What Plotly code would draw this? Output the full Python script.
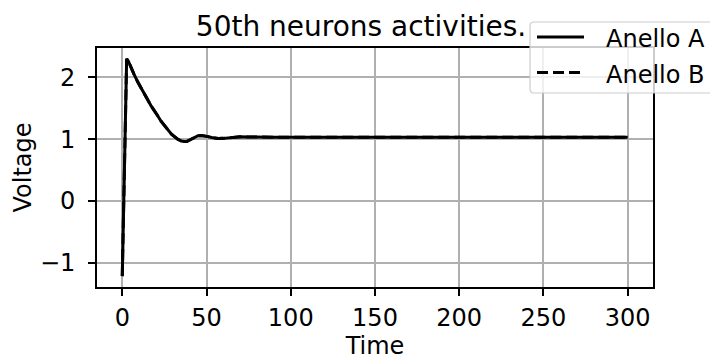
import plotly.graph_objects as go

# Data
time = [0, 1, 2, 2.6, 3.5, 5.3, 7, 9.3, 11, 13.3, 15, 17.3, 19, 21.2, 23, 25.2, 27,
        29.2, 31, 33.1, 35, 36.8, 38.5, 40.5, 43, 45, 47, 49, 51, 53, 55, 57, 60,
        63, 66, 70, 75, 80, 90, 100, 150, 200, 250, 300]
anello_a = [-1.22, 0.15, 1.55, 2.30, 2.27, 2.14, 2.05, 1.92, 1.83, 1.72, 1.64, 1.53,
            1.45, 1.37, 1.29, 1.21, 1.15, 1.08, 1.04, 0.995, 0.97, 0.96, 0.965, 0.99,
            1.03, 1.055, 1.06, 1.055, 1.04, 1.025, 1.015, 1.01, 1.012, 1.02, 1.03,
            1.037, 1.035, 1.03, 1.03, 1.03, 1.03, 1.03, 1.03, 1.03]
anello_b = list(anello_a)
series_names = ["Anello A", "Anello B"]
x_ticks = [0, 50, 100, 150, 200, 250, 300]
y_ticks = [-1, 0, 1, 2]

FONT = "DejaVu Sans"
W, H = 710, 361
ML, MR, MT, MB = 97, 57, 48, 74
PW, PH = W - ML - MR, H - MT - MB


def padded(lo, hi, frac=0.05):
    span = hi - lo
    return [lo - frac * span, hi + frac * span]


def px(x):
    return (x - ML) / PW


def py(y):
    return (H - MB - y) / PH


allv = anello_a + anello_b
yr = padded(min(allv), max(allv))
xr = padded(min(time), max(time))

fig = go.Figure()
fig.add_trace(go.Scatter(x=time, y=anello_a, mode="lines", name=series_names[0],
                         line=dict(color="black", width=3)))
fig.add_trace(go.Scatter(x=time, y=anello_b, mode="lines", name=series_names[1],
                         line=dict(color="black", width=3, dash="11px,5px")))

axis_common = dict(
    showline=True, linecolor="black", linewidth=1.6, mirror=True,
    showgrid=True, gridcolor="#b0b0b0", gridwidth=1.6,
    zeroline=False, ticks="outside", ticklen=7, tickwidth=1.6, tickcolor="black",
    tickfont=dict(family=FONT, size=24, color="black"),
)

# Manual legend (matplotlib-style, partly outside the figure)
shapes = []
annotations = []
bx0, by0, bx1, by1, r = 530, 22, 730, 93, 4
path = (f"M{px(bx0 + r)},{py(by0)} L{px(bx1)},{py(by0)} L{px(bx1)},{py(by1)} "
        f"L{px(bx0 + r)},{py(by1)} Q{px(bx0)},{py(by1)} {px(bx0)},{py(by1 - r)} "
        f"L{px(bx0)},{py(by0 + r)} Q{px(bx0)},{py(by0)} {px(bx0 + r)},{py(by0)} Z")
shapes.append(dict(type="path", xref="paper", yref="paper", path=path,
                   fillcolor="rgba(255,255,255,0.8)",
                   line=dict(color="#cccccc", width=1.2), layer="above"))
legend_rows = [(37, "solid"), (72.5, "11px,5px")]
for (yy, dash), name in zip(legend_rows, series_names):
    shapes.append(dict(type="line", xref="paper", yref="paper",
                       x0=px(537), x1=px(584), y0=py(yy), y1=py(yy),
                       line=dict(color="black", width=3, dash=dash), layer="above"))
    annotations.append(dict(text=name, xref="paper", yref="paper", x=px(604), y=py(yy + 2),
                            xanchor="left", yanchor="middle", showarrow=False,
                            font=dict(family=FONT, size=24, color="black")))

fig.update_layout(
    width=W, height=H,
    margin=dict(l=ML, r=MR, t=MT, b=MB, autoexpand=False),
    paper_bgcolor="white", plot_bgcolor="white",
    title=dict(text="50th neurons activities.", x=px(361), xref="paper",
               y=1 - 26 / H, yref="container", yanchor="middle", xanchor="center",
               font=dict(family=FONT, size=28, color="black")),
    xaxis=dict(range=xr, tickvals=x_ticks, ticklabelstandoff=1,
               title=dict(text="Time", font=dict(family=FONT, size=24, color="black"),
                          standoff=6),
               **axis_common),
    yaxis=dict(range=yr, tickvals=y_ticks, ticklabelstandoff=8,
               title=dict(text="Voltage", font=dict(family=FONT, size=24, color="black"),
                          standoff=2),
               **axis_common),
    showlegend=False,
    shapes=shapes,
    annotations=annotations,
)

fig.write_html("out.html", config={"displayModeBar": False},
               post_script="document.body.style.margin='0';document.body.style.overflow='hidden';")
